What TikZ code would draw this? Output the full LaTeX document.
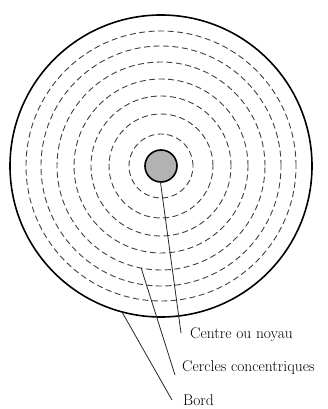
\documentclass[tikz,border=0pt]{standalone}
\usepackage{tikz}
\usetikzlibrary{
    arrows.meta,
    positioning,
    calc
}
\tikzset{
    % --- Outer boundary of the section ---
    rim/.style = {
        circle, draw, line width=1.6pt,
        minimum size=302pt, inner sep=0pt, outer sep=0pt
    },
    % --- Central core (pith) ---
    core/.style = {
        circle, draw, line width=1.6pt, fill=black!30,
        minimum size=32pt, inner sep=0pt, outer sep=0pt
    },
    % --- Concentric growth ring ---
    ring/.style = {
        circle, draw=black!75, line width=0.9pt,
        dash pattern=on 6pt off 3.5pt,
        inner sep=0pt, outer sep=0pt
    },
    % --- Leader line to a label ---
    leader/.style = {
        line width=0.8pt, black!85
    },
    % --- Label text ---
    caption/.style = {
        anchor=west, inner sep=0pt,
        font=\fontsize{15.5}{17}\selectfont
    }
}

\begin{document}
\begin{tikzpicture}[x=1pt, y=1pt]

\useasboundingbox (-161,-243) rectangle (166,166);

% ---------------------------------------------------------
% Section: rim, rings, core
% ---------------------------------------------------------
\node[rim] (bord) at (0,0) {};

\foreach \r/\n in {32/1, 52/2, 70/3, 87/4, 104/5, 120/6, 135/7} {
    \node[ring, minimum size=2*\r pt] (ring\n) at (0,0) {};
}

\node[core] (noyau) at (0,0) {};

% ---------------------------------------------------------
% Labels
% ---------------------------------------------------------
\node[caption] (lblCentre) at (29,-169) {Centre ou noyau};
\node[caption] (lblCercles) at (21,-202) {Cercles concentriques};
\node[caption] (lblBord) at (22,-234) {Bord};

% leader line ends
\coordinate (endCentre) at ($(lblCentre.west)+(-9,2)$);
\coordinate (endCercles) at ($(lblCercles.west)+(-7,-7)$);
\coordinate (endBord) at ($(lblBord.west)+(-11,0)$);

% ---------------------------------------------------------
% Leader lines
% ---------------------------------------------------------
\draw[leader] (noyau.268) -- (endCentre);
\draw[leader] (ring5.259) -- (endCercles);
\draw[leader] (bord.255) -- (endBord);

\end{tikzpicture}
\end{document}
